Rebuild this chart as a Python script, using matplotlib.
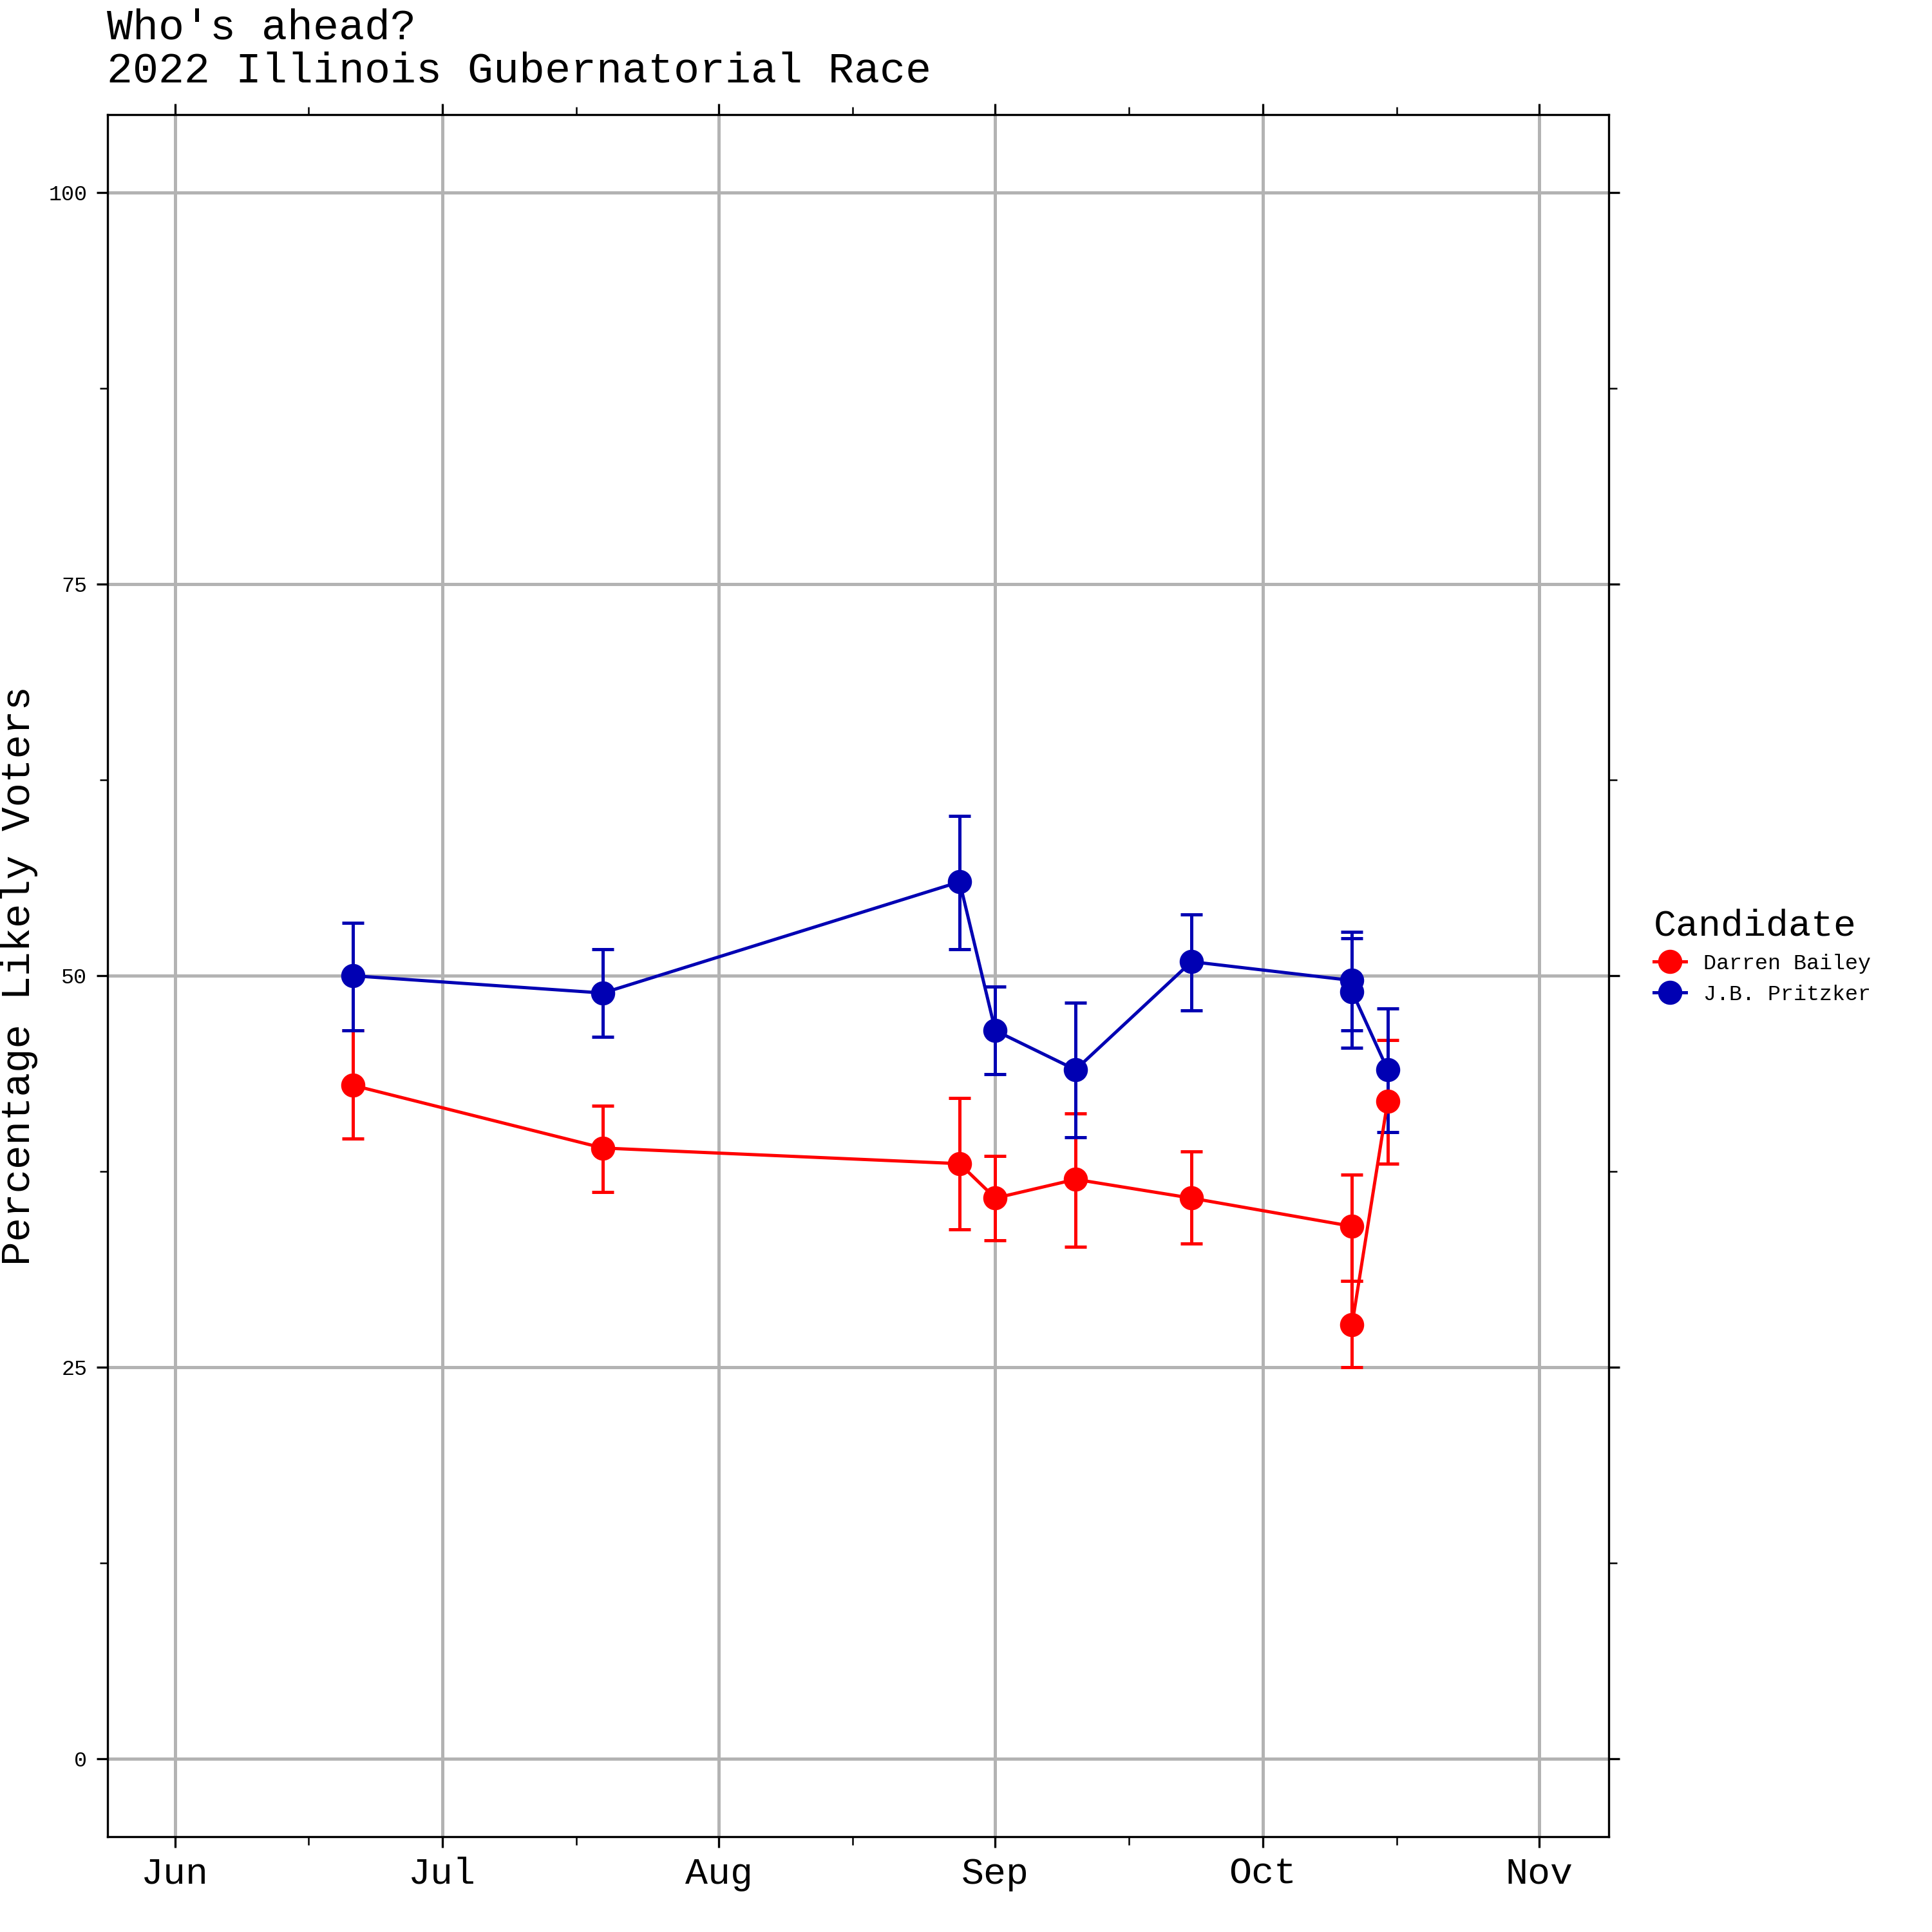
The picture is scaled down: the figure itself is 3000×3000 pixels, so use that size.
import matplotlib
matplotlib.use("Agg")
import matplotlib.pyplot as plt
import matplotlib.dates as mdates
from matplotlib.lines import Line2D
import datetime as dt

plt.rcParams['font.family'] = ['Liberation Mono', 'DejaVu Sans Mono']

dates = ["2022-06-21", "2022-07-19", "2022-08-28", "2022-09-01", "2022-09-10",
         "2022-09-23", "2022-10-11", "2022-10-11", "2022-10-15"]
pritzker = [50.0, 48.9, 56.0, 46.5, 44.0, 50.9, 49.7, 49.0, 44.0]
pritzker_lo = [46.5, 46.1, 51.7, 43.7, 39.7, 47.8, 46.5, 45.4, 40.0]
pritzker_hi = [53.4, 51.7, 60.2, 49.3, 48.3, 53.9, 52.8, 52.4, 47.9]
bailey = [43.0, 39.0, 38.0, 35.8, 37.0, 35.8, 34.0, 27.7, 42.0]
bailey_lo = [39.6, 36.2, 33.8, 33.1, 32.7, 32.9, 30.5, 25.0, 38.0]
bailey_hi = [46.5, 41.7, 42.2, 38.5, 41.2, 38.8, 37.3, 30.5, 45.9]

x = [dt.datetime.strptime(d, "%Y-%m-%d") for d in dates]

fig = plt.figure(figsize=(10, 10), dpi=300)
ax = fig.add_axes([0.0555, 0.0495, 0.777, 0.8912])

for vals, lo, hi, col in [(bailey, bailey_lo, bailey_hi, "#FF0000"),
                          (pritzker, pritzker_lo, pritzker_hi, "#0000B3")]:
    yerr = [[v - l for v, l in zip(vals, lo)], [h - v for v, h in zip(vals, hi)]]
    ax.errorbar(x, vals, yerr=yerr, fmt='none', ecolor=col, elinewidth=1.2,
                capsize=4, capthick=1.2, zorder=3)
    ax.plot(x, vals, color=col, lw=1.2, zorder=4)
    ax.plot(x, vals, 'o', color=col, ms=8, zorder=5)

ax.set_xlim(dt.datetime(2022, 5, 24, 10), dt.datetime(2022, 11, 8, 18))
ax.set_ylim(-4.96, 105)
ax.set_yticks([0, 25, 50, 75, 100])
ax.set_yticks([12.5, 37.5, 62.5, 87.5], minor=True)
ax.xaxis.set_major_locator(mdates.MonthLocator())
ax.xaxis.set_major_formatter(mdates.DateFormatter("%b"))
ax.xaxis.set_minor_locator(mdates.MonthLocator(bymonthday=16))
ax.grid(True, which='major', color='#B3B3B3', lw=1.2)
ax.set_axisbelow(True)
ax.tick_params(axis='x', which='major', labelsize=14, length=4, top=True)
ax.tick_params(axis='y', which='major', labelsize=8, length=4, right=True)
ax.tick_params(which='minor', length=3, top=True, right=True, labelbottom=False)
for s in ax.spines.values():
    s.set_color('black'); s.set_linewidth(0.8)
ax.set_ylabel("Percentage Likely Voters", fontsize=15)

fig.text(0.0555, 0.953, "Who's ahead?\n2022 Illinois Gubernatorial Race",
         fontsize=16, va='bottom', ha='left', linespacing=1.1)

handles = [Line2D([], [], color="#FF0000", marker='o', ms=8, lw=1.2),
           Line2D([], [], color="#0000B3", marker='o', ms=8, lw=1.2)]
leg = fig.legend(handles, ["Darren Bailey", "J.B. Pritzker"], title="Candidate",
                 loc='center left', bbox_to_anchor=(0.846, 0.505), frameon=False,
                 fontsize=8, title_fontsize=14, handlelength=1.5, alignment='left')
fig.savefig("out.png", dpi=300)
